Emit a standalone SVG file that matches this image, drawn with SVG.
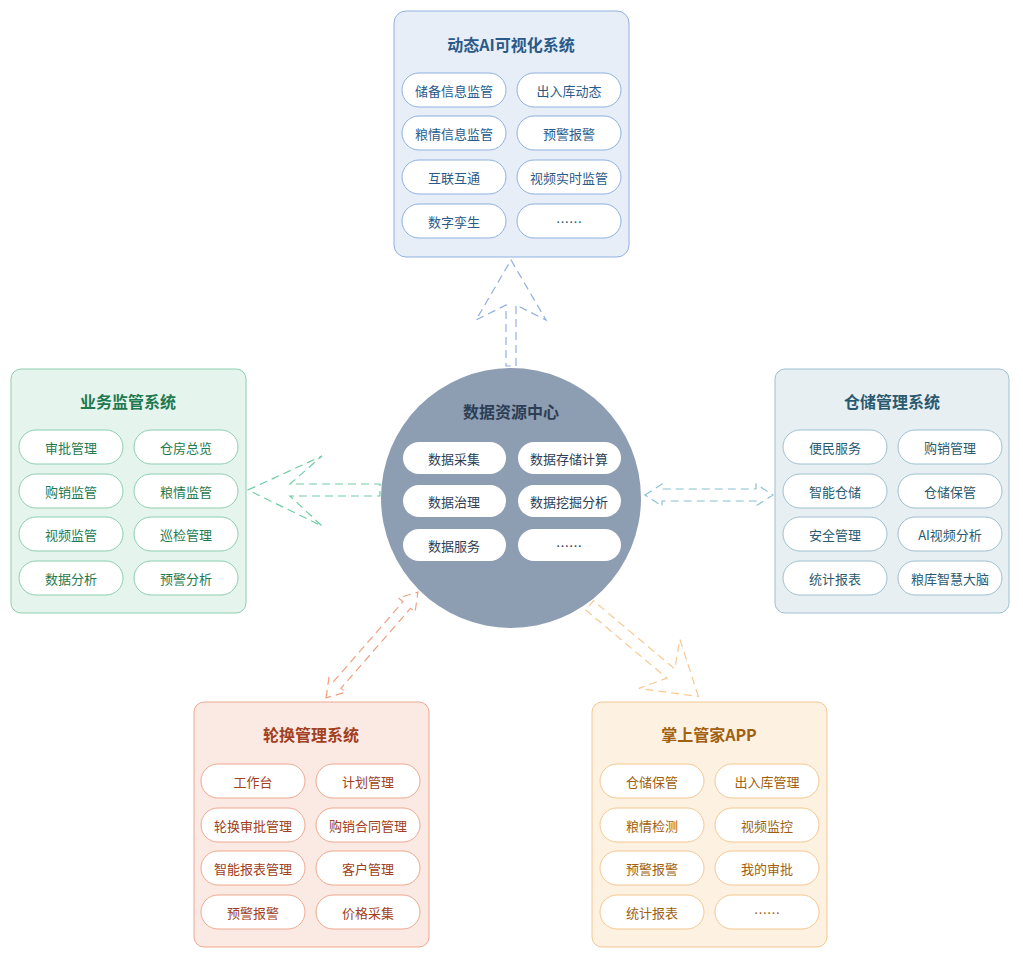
<svg xmlns="http://www.w3.org/2000/svg" width="1023" height="961" viewBox="0 0 1023 961">
<style>
text{font-family:"Noto Sans CJK SC","Noto Sans",sans-serif;text-anchor:middle;dominant-baseline:central}
.t{font-size:16px;font-weight:bold}
.p{font-size:13px}
.pill{fill:#fff;stroke-width:1}
.arr{fill:none;stroke-width:1.2;stroke-dasharray:8 5}
</style>
<rect width="1023" height="961" fill="#fff"/>
<g id="connectors">
<path class="arr" stroke="#8fb0e0" d="M511,260 L546,320 L516,305 L516,366 L506,366 L506,305 L476,320 Z"/>
<path class="arr" stroke="#6fcca4" d="M248,490 L322,456 L290,484 L380,484 L380,496 L290,496 L322,526 Z"/>
<path class="arr" stroke="#8cc0d4" d="M645,495 L662,484 L662,489 L756,489 L756,484 L773,495 L756,506 L756,501 L662,501 L662,506 Z"/>
<path class="arr" stroke="#f0a080" transform="translate(372,645) rotate(-49)" d="M-70,0 L-53,-11 L-53,-5 L53,-5 L53,-11 L70,0 L53,11 L53,5 L-53,5 L-53,11 Z"/>
<path class="arr" stroke="#f8c890" transform="translate(644,651) rotate(40)" d="M71,0 L20,-32 L35,-6 L-71,-6 L-71,6 L35,6 L20,32 Z"/>
</g>
<g id="top">
<rect x="394" y="11" width="235" height="246" rx="12" fill="#e8eef8" stroke="#8fb0e0"/>
<text class="t" x="511" y="44" fill="#2a5a8a">动态AI可视化系统</text>
<g stroke="#8fb0e0" fill="#2a5a8a">
<rect class="pill" x="402" y="73" width="104" height="34" rx="17"/><rect class="pill" x="517" y="73" width="104" height="34" rx="17"/>
<rect class="pill" x="402" y="116" width="104" height="34" rx="17"/><rect class="pill" x="517" y="116" width="104" height="34" rx="17"/>
<rect class="pill" x="402" y="160" width="104" height="34" rx="17"/><rect class="pill" x="517" y="160" width="104" height="34" rx="17"/>
<rect class="pill" x="402" y="204" width="104" height="34" rx="17"/><rect class="pill" x="517" y="204" width="104" height="34" rx="17"/>
</g>
<g fill="#2a5a8a" class="p">
<text class="p" x="454" y="90">储备信息监管</text><text class="p" x="569" y="90">出入库动态</text>
<text class="p" x="454" y="133">粮情信息监管</text><text class="p" x="569" y="133">预警报警</text>
<text class="p" x="454" y="177">互联互通</text><text class="p" x="569" y="177">视频实时监管</text>
<text class="p" x="454" y="221">数字孪生</text><text class="p" x="569" y="221">……</text>
</g>
</g>
<g id="left">
<rect x="11" y="369" width="235" height="244" rx="10" fill="#e6f4ee" stroke="#8ccfb0"/>
<text class="t" x="128" y="401" fill="#1e7a50">业务监管系统</text>
<g stroke="#8ccfb0">
<rect class="pill" x="19" y="430" width="104" height="34" rx="17"/><rect class="pill" x="134" y="430" width="104" height="34" rx="17"/>
<rect class="pill" x="19" y="474" width="104" height="34" rx="17"/><rect class="pill" x="134" y="474" width="104" height="34" rx="17"/>
<rect class="pill" x="19" y="517" width="104" height="34" rx="17"/><rect class="pill" x="134" y="517" width="104" height="34" rx="17"/>
<rect class="pill" x="19" y="561" width="104" height="34" rx="17"/><rect class="pill" x="134" y="561" width="104" height="34" rx="17"/>
</g>
<g fill="#1e7a50">
<text class="p" x="71" y="447">审批管理</text><text class="p" x="186" y="447">仓房总览</text>
<text class="p" x="71" y="491">购销监管</text><text class="p" x="186" y="491">粮情监管</text>
<text class="p" x="71" y="534">视频监管</text><text class="p" x="186" y="534">巡检管理</text>
<text class="p" x="71" y="578">数据分析</text><text class="p" x="186" y="578">预警分析</text>
</g>
</g>
<g id="right">
<rect x="775" y="369" width="234" height="244" rx="10" fill="#e8eff3" stroke="#9ec0d0"/>
<text class="t" x="892" y="401" fill="#2a5a70">仓储管理系统</text>
<g stroke="#9ec0d0">
<rect class="pill" x="783" y="430" width="104" height="34" rx="17"/><rect class="pill" x="898" y="430" width="104" height="34" rx="17"/>
<rect class="pill" x="783" y="474" width="104" height="34" rx="17"/><rect class="pill" x="898" y="474" width="104" height="34" rx="17"/>
<rect class="pill" x="783" y="517" width="104" height="34" rx="17"/><rect class="pill" x="898" y="517" width="104" height="34" rx="17"/>
<rect class="pill" x="783" y="561" width="104" height="34" rx="17"/><rect class="pill" x="898" y="561" width="104" height="34" rx="17"/>
</g>
<g fill="#2a5a70">
<text class="p" x="835" y="447">便民服务</text><text class="p" x="950" y="447">购销管理</text>
<text class="p" x="835" y="491">智能仓储</text><text class="p" x="950" y="491">仓储保管</text>
<text class="p" x="835" y="534">安全管理</text><text class="p" x="950" y="534">AI视频分析</text>
<text class="p" x="835" y="578">统计报表</text><text class="p" x="950" y="578">粮库智慧大脑</text>
</g>
</g>
<g id="center">
<circle cx="511" cy="498" r="130" fill="#8d9db2"/>
<text class="t" x="511" y="411" fill="#2d3e55">数据资源中心</text>
<g>
<rect class="pill" x="403" y="442" width="103" height="32" rx="16" stroke="none"/><rect class="pill" x="518" y="442" width="103" height="32" rx="16" stroke="none"/>
<rect class="pill" x="403" y="485" width="103" height="32" rx="16" stroke="none"/><rect class="pill" x="518" y="485" width="103" height="32" rx="16" stroke="none"/>
<rect class="pill" x="403" y="529" width="103" height="32" rx="16" stroke="none"/><rect class="pill" x="518" y="529" width="103" height="32" rx="16" stroke="none"/>
</g>
<g fill="#2d3e55">
<text class="p" x="454" y="458">数据采集</text><text class="p" x="569" y="458">数据存储计算</text>
<text class="p" x="454" y="501">数据治理</text><text class="p" x="569" y="501">数据挖掘分析</text>
<text class="p" x="454" y="545">数据服务</text><text class="p" x="569" y="545">……</text>
</g>
</g>
<g id="bottomleft">
<rect x="194" y="702" width="235" height="245" rx="10" fill="#fbe9e4" stroke="#eea890"/>
<text class="t" x="311" y="734" fill="#a04020">轮换管理系统</text>
<g stroke="#eea890">
<rect class="pill" x="201" y="764" width="104" height="34" rx="17"/><rect class="pill" x="316" y="764" width="104" height="34" rx="17"/>
<rect class="pill" x="201" y="808" width="104" height="34" rx="17"/><rect class="pill" x="316" y="808" width="104" height="34" rx="17"/>
<rect class="pill" x="201" y="851" width="104" height="34" rx="17"/><rect class="pill" x="316" y="851" width="104" height="34" rx="17"/>
<rect class="pill" x="201" y="895" width="104" height="34" rx="17"/><rect class="pill" x="316" y="895" width="104" height="34" rx="17"/>
</g>
<g fill="#a04020">
<text class="p" x="253" y="781">工作台</text><text class="p" x="368" y="781">计划管理</text>
<text class="p" x="253" y="825">轮换审批管理</text><text class="p" x="368" y="825">购销合同管理</text>
<text class="p" x="253" y="868">智能报表管理</text><text class="p" x="368" y="868">客户管理</text>
<text class="p" x="253" y="912">预警报警</text><text class="p" x="368" y="912">价格采集</text>
</g>
</g>
<g id="bottomright">
<rect x="592" y="702" width="235" height="245" rx="10" fill="#fdf1e2" stroke="#f4c890"/>
<text class="t" x="709" y="734" fill="#a06010">掌上管家APP</text>
<g stroke="#f4c890">
<rect class="pill" x="600" y="764" width="104" height="34" rx="17"/><rect class="pill" x="715" y="764" width="104" height="34" rx="17"/>
<rect class="pill" x="600" y="808" width="104" height="34" rx="17"/><rect class="pill" x="715" y="808" width="104" height="34" rx="17"/>
<rect class="pill" x="600" y="851" width="104" height="34" rx="17"/><rect class="pill" x="715" y="851" width="104" height="34" rx="17"/>
<rect class="pill" x="600" y="895" width="104" height="34" rx="17"/><rect class="pill" x="715" y="895" width="104" height="34" rx="17"/>
</g>
<g fill="#a06010">
<text class="p" x="652" y="781">仓储保管</text><text class="p" x="767" y="781">出入库管理</text>
<text class="p" x="652" y="825">粮情检测</text><text class="p" x="767" y="825">视频监控</text>
<text class="p" x="652" y="868">预警报警</text><text class="p" x="767" y="868">我的审批</text>
<text class="p" x="652" y="912">统计报表</text><text class="p" x="767" y="912">……</text>
</g>
</g>
</svg>
